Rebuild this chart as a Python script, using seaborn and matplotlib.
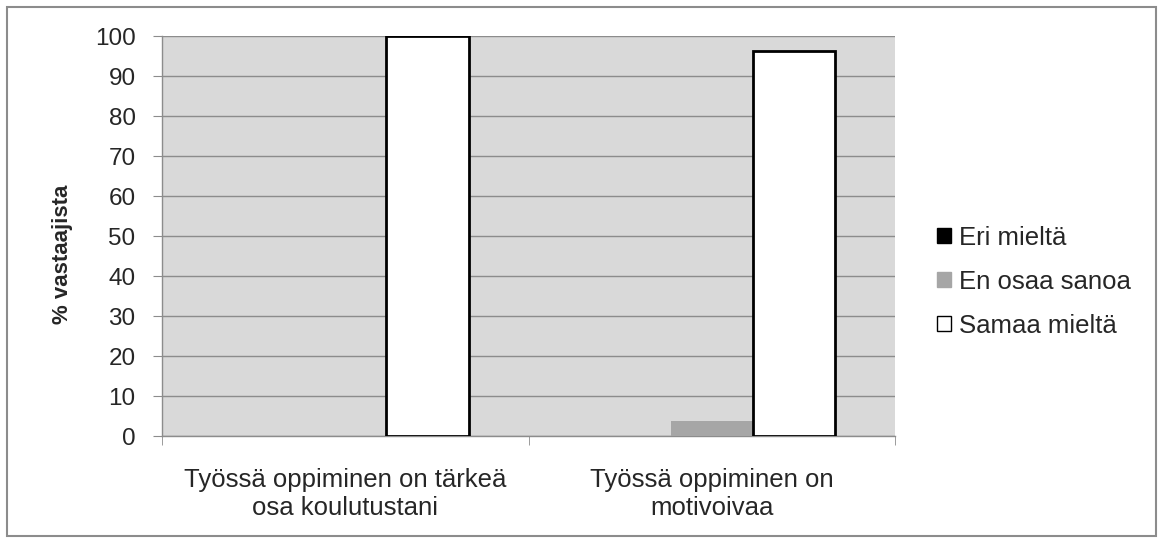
import matplotlib
matplotlib.use("Agg")
import matplotlib.pyplot as plt
import seaborn as sns
import pandas as pd
from matplotlib.patches import Patch, Rectangle

categories = ["Työssä oppiminen on tärkeä\nosa koulutustani", "Työssä oppiminen on\nmotivoivaa"]
series = ["Eri mieltä", "En osaa sanoa", "Samaa mieltä"]
eri_mielta = [0, 0]
en_osaa_sanoa = [0, 3.8]
samaa_mielta = [100, 96.2]
colors = ["#000000", "#a6a6a6", "#ffffff"]

rows = []
for s, vals in zip(series, [eri_mielta, en_osaa_sanoa, samaa_mielta]):
    for c, v in zip(categories, vals):
        rows.append({"cat": c, "series": s, "val": v})
df = pd.DataFrame(rows)

sns.set_style("white")
plt.rcParams['font.family'] = ['Liberation Sans', 'DejaVu Sans']

fig = plt.figure(figsize=(11.63, 5.44), dpi=100)
ax = fig.add_axes([0.1393, 0.1985, 0.7696 - 0.1393, 0.9338 - 0.1985])
ax.set_facecolor("#d9d9d9")
sns.barplot(data=df, x="cat", y="val", hue="series", hue_order=series, order=categories,
            palette=colors, width=0.675, ax=ax, legend=False, saturation=1, errorbar=None)

for p in ax.patches:
    fc = p.get_facecolor()
    if fc[0] > 0.9:
        p.set_edgecolor("black")
        p.set_linewidth(2)
    else:
        p.set_linewidth(0)
    p.set_zorder(3)

ax.set_ylim(0, 100)
ax.set_xlim(-0.5, 1.5)
ax.set_yticks(range(0, 101, 10))
ax.yaxis.grid(True, color="#8c8c8c", linewidth=1)
ax.set_axisbelow(True)
for s in ["top", "right"]:
    ax.spines[s].set_visible(False)
ax.spines["left"].set_color("#8c8c8c")
ax.spines["bottom"].set_color("#8c8c8c")
ax.spines["left"].set_linewidth(1)
ax.spines["bottom"].set_linewidth(1)

ax.tick_params(axis="y", which="major", length=6.5, color="#8c8c8c", labelsize=17.5, pad=12.5, left=True)
ax.tick_params(axis="x", which="major", length=0, labelsize=18.5, pad=23)
ax.set_xticks([-0.5, 0.5, 1.5], minor=True)
ax.tick_params(axis="x", which="minor", length=6.5, color="#8c8c8c", bottom=True)
ax.set_xlabel("")
ax.set_ylabel("% vastaajista", fontsize=16, fontweight="bold")
ax.yaxis.set_label_coords(-0.122, 0.455)

handles = [Patch(facecolor=c, edgecolor=("black" if c == "#ffffff" else c), linewidth=1) for c in colors]
fig.legend(handles, series, loc="center left", bbox_to_anchor=(0.786, 0.482), frameon=False,
           fontsize=18.5, handlelength=0.55, handleheight=0.55, handletextpad=0.3, labelspacing=0.78)

fig.patches.append(Rectangle((0.006, 0.014), 0.988, 0.973, transform=fig.transFigure,
                             fill=False, edgecolor="#8c8c8c", linewidth=1.5))

fig.savefig("out.png", dpi=100)
